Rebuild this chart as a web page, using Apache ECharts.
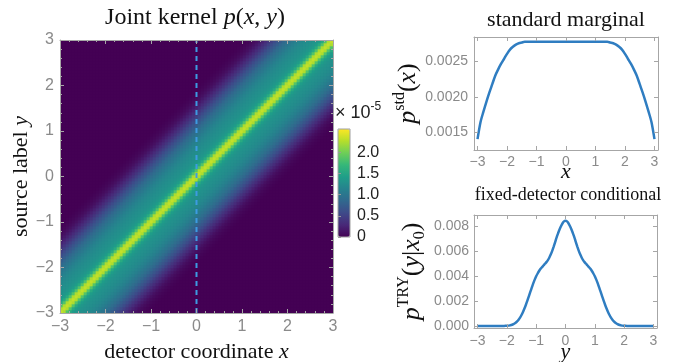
<!DOCTYPE html>
<html>
<head>
<meta charset="utf-8">
<script src="https://cdn.jsdelivr.net/npm/echarts@6/dist/echarts.min.js"></script>
<style>
  html, body { margin: 0; padding: 0; background: #fff; }
  #chart { width: 673px; height: 362px; }
</style>
</head>
<body>
<div id="chart"></div>
<script>
// tick labels
var heatTicks = [-3, -2, -1, 0, 1, 2, 3];
var marginalYTicks = [0.0015, 0.0020, 0.0025];
var conditionalYTicks = [0.000, 0.002, 0.004, 0.006, 0.008];
var colorbarTicks = [0, 0.5, 1.0, 1.5, 2.0];

// joint kernel p(x,y) in units of 1e-5, read across the ridge at |y - x| = k * 6/91
var jointProfile = [
  2.32, 2.24, 1.85, 1.55, 1.40, 1.34, 1.30, 1.27, 1.25, 1.22,
  1.19, 1.15, 1.10, 1.04, 0.98, 0.91, 0.84, 0.75, 0.67, 0.58,
  0.48, 0.39, 0.31, 0.23, 0.17, 0.11, 0.07, 0.04, 0.02, 0.01, 0
];

// standard marginal p_std(x), read at x = -3, -2.9, ..., 3
var marginalP = [
  0.00140, 0.00164, 0.00179, 0.00193, 0.00206, 0.00218, 0.00230, 0.00239, 0.00247, 0.00254,
  0.00261, 0.00267, 0.00271, 0.00274, 0.00276, 0.00277,
  0.00278, 0.00278, 0.00278, 0.00278, 0.00278, 0.00278, 0.00278, 0.00278, 0.00278, 0.00278,
  0.00278, 0.00278, 0.00278, 0.00278, 0.00278, 0.00278, 0.00278, 0.00278, 0.00278, 0.00278,
  0.00278, 0.00278, 0.00278, 0.00278, 0.00278, 0.00278, 0.00278, 0.00278, 0.00278,
  0.00277, 0.00276, 0.00274, 0.00271, 0.00267, 0.00261,
  0.00254, 0.00247, 0.00239, 0.00230, 0.00218, 0.00206, 0.00193, 0.00179, 0.00164, 0.00140
];

// fixed-detector conditional p_TRY(y|x0), read at y = -3, -2.95, ..., 3
var conditionalP = [
  0, 0, 0, 0, 0, 0, 0, 0, 0, 0, 0, 0, 0, 0, 0, 0,
  0.000002, 0.000004, 0.000006, 0.00001, 0.00002, 0.00003, 0.00005, 0.00008, 0.00012, 0.00018,
  0.00026, 0.00036, 0.00050, 0.00067, 0.00088, 0.00112, 0.00140, 0.00170, 0.00202, 0.00237,
  0.00272, 0.00306, 0.00340, 0.00370, 0.00397, 0.00419, 0.00439, 0.00456, 0.00470, 0.00483,
  0.00497, 0.00510, 0.00526, 0.00547, 0.00572, 0.00602, 0.00636, 0.00672, 0.00710, 0.00742,
  0.00772, 0.00798, 0.00820, 0.00835,
  0.00840,
  0.00835, 0.00820, 0.00798, 0.00772,
  0.00742, 0.00710, 0.00672, 0.00636, 0.00602, 0.00572, 0.00547, 0.00526, 0.00510, 0.00497,
  0.00483, 0.00470, 0.00456, 0.00439, 0.00419, 0.00397, 0.00370, 0.00340, 0.00306, 0.00272,
  0.00237, 0.00202, 0.00170, 0.00140, 0.00112, 0.00088, 0.00067, 0.00050, 0.00036, 0.00026,
  0.00018, 0.00012, 0.00008, 0.00005, 0.00003, 0.00002, 0.00001, 0.000006, 0.000004, 0.000002,
  0, 0, 0, 0, 0, 0, 0, 0, 0, 0, 0, 0, 0, 0, 0, 0
];

var detectorX0 = 0;

var viridis = ['#440154', '#482878', '#3e4a89', '#31688e', '#26828e',
               '#1f9e89', '#35b779', '#6ece58', '#b5de2b', '#fde725'];

// sample positions
var marginalData = marginalP.map(function (p, i) { return [-3 + i * 0.1, p]; });
var conditionalData = conditionalP.map(function (p, i) { return [-3 + i * 0.05, p]; });

// heatmap cells: 91 x 91 over [-3, 3]
var nCells = 91;
var cellNames = [];
for (var c = 0; c < nCells; c++) cellNames.push((-3 + (c + 0.5) * 6 / nCells).toFixed(3));
var heatData = [];
for (var i = 0; i < nCells; i++) {
  for (var j = 0; j < nCells; j++) {
    var k = Math.abs(j - i);
    heatData.push([i, j, k < jointProfile.length ? jointProfile[k] : 0]);
  }
}

var serif = 'Liberation Serif';
var sans = 'Liberation Sans';
var frameColor = '#a6a6a6';
var labelColor = '#8a8a8a';
var lineBlue = '#2f7dc1';

function minus(s) { return String(s).replace('-', '\u2212'); }

function richSet(size, supSize, lh) {
  return {
    i: { fontFamily: serif, fontStyle: 'italic', fontWeight: 'normal', fontSize: size, color: '#111', lineHeight: lh },
    n: { fontFamily: serif, fontWeight: 'normal', fontSize: size, color: '#111', lineHeight: lh },
    sup: { fontFamily: serif, fontWeight: 'normal', fontSize: supSize, color: '#111', verticalAlign: 'top', lineHeight: lh },
    sub: { fontFamily: serif, fontWeight: 'normal', fontSize: supSize, color: '#111', verticalAlign: 'bottom', lineHeight: lh }
  };
}
var titleRich = richSet(24, 14, 26);
var nameRich = richSet(22, 13, 24);
var pRich = richSet(26, 16, 32);

// value axis that draws one side of a Mathematica style frame
function frameAxis(gridIndex, position, min, max, ticks, fmt, margin) {
  return {
    type: 'value', gridIndex: gridIndex, position: position, min: min, max: max, z: 10,
    axisLine: { show: true, onZero: false, lineStyle: { color: frameColor, width: 1 } },
    axisTick: { show: true, inside: true, length: 4, customValues: ticks, lineStyle: { color: frameColor } },
    axisLabel: fmt ? { show: true, customValues: ticks, formatter: fmt, color: labelColor,
                       fontFamily: sans, fontSize: 14, margin: margin } : { show: false },
    splitLine: { show: false },
    minorSplitLine: { show: false }
  };
}

// heatmap frame axes, -3..3 with integer and 0.2 ticks
function heatAxis(position, showLabel) {
  return {
    type: 'value', gridIndex: 0, position: position, min: -3, max: 3, interval: 1, z: 10,
    axisLine: { show: true, onZero: false, lineStyle: { color: frameColor, width: 1 } },
    axisTick: { show: true, inside: true, length: 4, lineStyle: { color: frameColor } },
    minorTick: { show: true, splitNumber: 5, length: 2, lineStyle: { color: frameColor } },
    axisLabel: showLabel ? { show: true, formatter: minus, color: labelColor,
                             fontFamily: sans, fontSize: 16, margin: 6 } : { show: false },
    splitLine: { show: false },
    minorSplitLine: { show: false },
    splitArea: { show: false }
  };
}

var xMin = -3.12, xMax = 3.12;

var xHeat = heatAxis('bottom', true);
xHeat.name = '{n|detector coordinate }{i|x}';
xHeat.nameLocation = 'middle';
xHeat.nameGap = 27;
xHeat.nameTextStyle = { rich: nameRich };

var yHeat = heatAxis('left', true);
yHeat.name = '{n|source label }{i|y}';
yHeat.nameLocation = 'middle';
yHeat.nameGap = 25;
yHeat.nameRotate = 90;
yHeat.nameTextStyle = { rich: nameRich };

var xMarg = frameAxis(1, 'bottom', xMin, xMax, heatTicks, minus, 5);
xMarg.name = '{i|x}';
xMarg.nameLocation = 'middle';
xMarg.nameGap = 10;
xMarg.nameMoveOverlap = false;
xMarg.nameTextStyle = { rich: nameRich };

var yMarg = frameAxis(1, 'left', 0.001246, 0.002849, marginalYTicks,
                      function (v) { return v.toFixed(4); }, 6);
yMarg.name = '{i|p}{sup|std}{n|(}{i|x}{n|)}';
yMarg.nameLocation = 'middle';
yMarg.nameGap = 46;
yMarg.nameRotate = 90;
yMarg.nameTextStyle = { rich: pRich };

var xCond = frameAxis(2, 'bottom', xMin, xMax, heatTicks, minus, 6);
xCond.name = '{i|y}';
xCond.nameLocation = 'middle';
xCond.nameGap = 12;
xCond.nameMoveOverlap = false;
xCond.nameTextStyle = { rich: nameRich };

var yCond = frameAxis(2, 'left', -0.00016, 0.00886, conditionalYTicks,
                      function (v) { return v.toFixed(3); }, 5);
yCond.name = '{i|p}{sup|TRY}{n|(}{i|y}{n||}{i|x}{sub|0}{n|)}';
yCond.nameLocation = 'middle';
yCond.nameGap = 46;
yCond.nameRotate = 90;
yCond.nameTextStyle = { rich: pRich };

var myChart = echarts.init(document.getElementById('chart'));

var option = {
  backgroundColor: '#fff',
  animation: false,
  title: [
    { text: '{n|Joint kernel }{i|p}{n|(}{i|x}{n|, }{i|y}{n|)}', left: 195, top: 5, textAlign: 'center',
      padding: 0, textStyle: { fontWeight: 'normal', rich: titleRich } },
    { text: 'standard marginal', left: 566, top: 9, textAlign: 'center', padding: 0,
      textStyle: { fontFamily: serif, fontSize: 22, fontWeight: 'normal', color: '#111' } },
    { text: 'fixed-detector conditional', left: 568, top: 186, textAlign: 'center', padding: 0,
      textStyle: { fontFamily: serif, fontSize: 18, fontWeight: 'normal', color: '#111' } }
  ],
  grid: [
    { left: 60, top: 40, width: 273, height: 273, outerBoundsMode: 'none' },
    { left: 474, top: 37, width: 184, height: 113, outerBoundsMode: 'none' },
    { left: 474, top: 215, width: 183, height: 113, outerBoundsMode: 'none' },
    { left: 338, top: 129, width: 12, height: 108, outerBoundsMode: 'none' }
  ],
  xAxis: [
    { type: 'category', gridIndex: 0, data: cellNames, show: false },
    xHeat,
    heatAxis('top', false),
    xMarg,
    frameAxis(1, 'top', xMin, xMax, heatTicks, null),
    xCond,
    frameAxis(2, 'top', xMin, xMax, heatTicks, null),
    { type: 'value', gridIndex: 3, show: false, min: 0, max: 1 }
  ],
  yAxis: [
    { type: 'category', gridIndex: 0, data: cellNames, show: false },
    yHeat,
    heatAxis('right', false),
    yMarg,
    frameAxis(1, 'right', 0.001246, 0.002849, marginalYTicks, null),
    yCond,
    frameAxis(2, 'right', -0.00016, 0.00886, conditionalYTicks, null),
    {
      type: 'value', gridIndex: 3, position: 'right', min: 0, max: 2.55, z: 10,
      axisLine: { show: false },
      axisTick: { show: true, length: 3, customValues: colorbarTicks, lineStyle: { color: '#999' } },
      axisLabel: { customValues: colorbarTicks, margin: 7, color: '#222', fontFamily: sans, fontSize: 16,
                   formatter: function (v) { return v === 0 ? '0' : v.toFixed(1); } },
      splitLine: { show: false }
    }
  ],
  visualMap: {
    type: 'continuous', seriesIndex: 0, dimension: 2, min: 0, max: 2.55,
    show: true, calculable: false, hoverLink: false, padding: 0,
    left: 338, top: 129, itemWidth: 12, itemHeight: 108,
    inRange: { color: viridis }
  },
  graphic: [
    { type: 'rect', z: 100, shape: { x: 338, y: 129, width: 12, height: 108 },
      style: { fill: null, stroke: '#a0a0a0', lineWidth: 1 } },
    { type: 'text', z: 100, left: 335, top: 101,
      style: { text: '{a|\u00d7 10}{s|-5}', rich: {
        a: { fontFamily: sans, fontSize: 18, fill: '#222', lineHeight: 24 },
        s: { fontFamily: sans, fontSize: 12, fill: '#222', verticalAlign: 'top', lineHeight: 24 } } } }
  ],
  series: [
    {
      // heatmap cells drawn slightly oversized so neighbours overlap without seams
      type: 'custom', xAxisIndex: 0, yAxisIndex: 0, data: heatData,
      encode: { x: 0, y: 1 }, clip: true, progressive: 0, silent: true,
      renderItem: function (params, api) {
        var p = api.coord([api.value(0), api.value(1)]);
        var s = api.size([1, 1]);
        return {
          type: 'rect',
          shape: { x: p[0] - s[0] / 2 - 0.3, y: p[1] - s[1] / 2 - 0.3, width: s[0] + 0.6, height: s[1] + 0.6 },
          style: { fill: api.visual('color') }
        };
      }
    },
    {
      type: 'line', xAxisIndex: 1, yAxisIndex: 1, z: 5,
      data: [[detectorX0, -3], [detectorX0, 3]], symbol: 'none',
      lineStyle: { color: '#3d9be2', width: 2, type: [5, 4] }
    },
    {
      type: 'line', xAxisIndex: 3, yAxisIndex: 3, data: marginalData, symbol: 'none',
      smooth: 0.3, lineStyle: { color: lineBlue, width: 2.5 }
    },
    {
      type: 'line', xAxisIndex: 5, yAxisIndex: 5, data: conditionalData, symbol: 'none',
      smooth: 0.3, lineStyle: { color: lineBlue, width: 2.5 }
    }
  ]
};

myChart.setOption(option);
</script>
</body>
</html>
